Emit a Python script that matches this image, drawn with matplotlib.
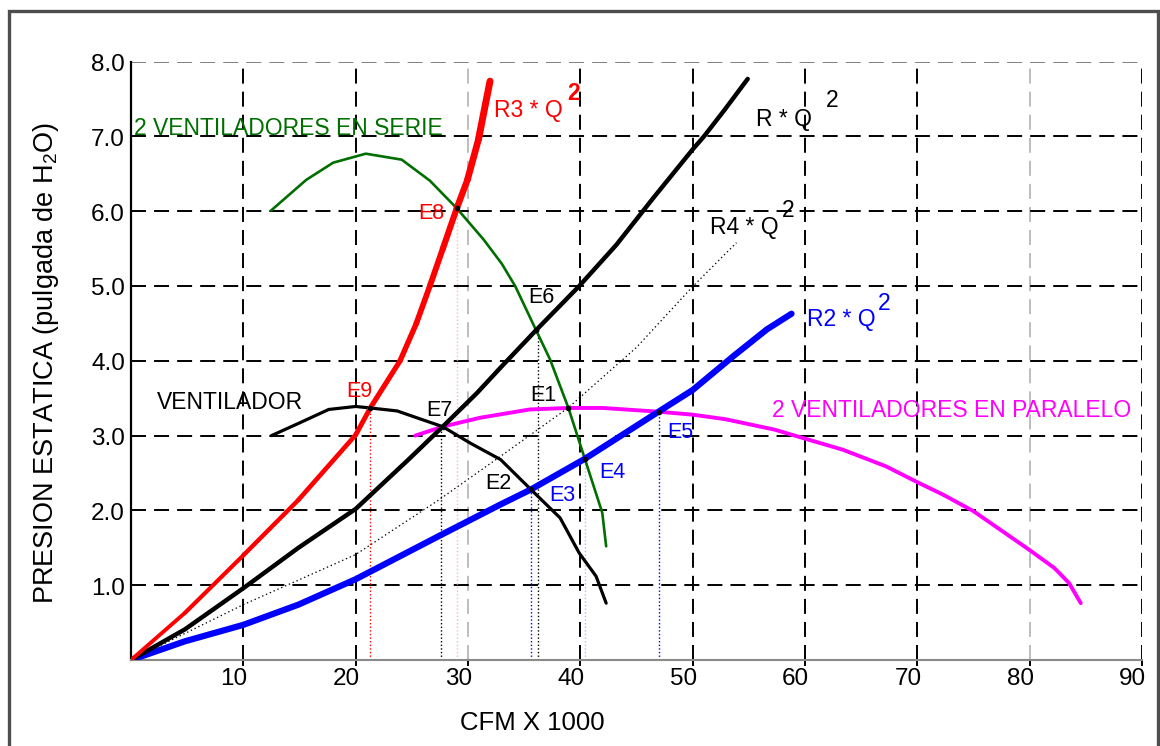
import matplotlib
matplotlib.use("Agg")
import numpy as np
import matplotlib.pyplot as plt
from matplotlib.patches import Rectangle
from matplotlib.collections import LineCollection
from matplotlib.transforms import ScaledTranslation

plt.rcParams['font.family'] = ['Liberation Sans', 'DejaVu Sans']
plt.rcParams['mathtext.default'] = 'regular'
plt.rcParams['lines.scale_dashes'] = False

# ---------------- data ----------------
# system curve R3*Q^2 (red)
r3_x = [0, 4.8, 10, 14.9, 20, 21.3, 23.95, 25.4, 26.6, 27.76, 29.0, 29.95, 30.93, 31.96]
r3_y = [0, 0.63, 1.40, 2.14, 3.01, 3.37, 4.0, 4.5, 5.0, 5.5, 6.04, 6.42, 6.96, 7.74]

# system curve R*Q^2 (black, thick)
r_x = [0, 4.8, 10, 14.9, 20, 24.7, 27.75, 30.8, 32.9, 36.06, 39.9, 43.2, 46.4, 49.96, 51.0, 52.86, 54.9]
r_y = [0, 0.41, 0.96, 1.50, 2.02, 2.68, 3.12, 3.57, 3.91, 4.41, 5.0, 5.55, 6.16, 6.82, 7.0, 7.36, 7.77]

# system curve R4*Q^2 (dotted)
r4_x = [0, 10, 20, 27.4, 32.86, 38.9, 45.0, 49.98, 53.9]
r4_y = [0, 0.74, 1.41, 2.14, 2.72, 3.37, 4.18, 4.99, 5.58]

# system curve R2*Q^2 (blue)
r2_x = [0, 4.8, 10, 14.9, 20, 27.7, 32.9, 35.6, 40.4, 46.96, 50.0, 53.6, 56.6, 58.8]
r2_y = [0, 0.25, 0.47, 0.74, 1.08, 1.68, 2.08, 2.28, 2.69, 3.32, 3.61, 4.06, 4.42, 4.63]

# single fan curve (VENTILADOR)
fan_x = [12.5, 15.0, 17.6, 20.0, 21.3, 23.7, 26.0, 27.75, 30.2, 32.9, 35.6, 38.2, 39.9, 41.4, 42.3]
fan_y = [3.0, 3.17, 3.35, 3.39, 3.37, 3.33, 3.21, 3.12, 2.90, 2.68, 2.28, 1.90, 1.43, 1.12, 0.76]

# 2 fans in series (green)
ser_x = [12.47, 15.6, 18.0, 20.9, 24.1, 26.6, 29.0, 31.4, 33.0, 34.2, 36.06, 37.3, 38.94, 40.4, 41.95, 42.3]
ser_y = [6.01, 6.42, 6.65, 6.77, 6.69, 6.41, 6.04, 5.62, 5.30, 5.0, 4.41, 4.02, 3.37, 2.69, 1.97, 1.52]

# 2 fans in parallel (magenta)
par_x = [25.3, 27.75, 31.1, 35.5, 38.9, 42.0, 46.96, 50.0, 52.9, 57.3, 60.0, 63.4, 67.2, 70.1, 72.3,
         75.0, 77.4, 79.9, 82.2, 83.5, 84.55]
par_y = [3.0, 3.12, 3.24, 3.35, 3.37, 3.37, 3.32, 3.28, 3.22, 3.08, 2.96, 2.81, 2.59, 2.37, 2.21,
         1.99, 1.74, 1.48, 1.23, 1.03, 0.76]

# operating points (intersections)
pt_x = [21.3, 27.75, 29.0, 36.06, 35.6, 38.9, 40.4, 46.96]
pt_y = [3.37, 3.12, 6.04, 4.41, 2.28, 3.37, 2.69, 3.32]

# vertical drop lines from operating points
drop_x = [21.3, 27.6, 29.05, 35.6, 36.2, 40.4, 46.96]
drop_top = [3.37, 3.12, 6.04, 2.28, 4.41, 2.69, 3.32]
drop_col = ['#ff0000', '#000000', '#ffb4b4', '#0000ff', '#000000', '#b4b4ff', '#0000ff']

# point labels
lab_text = ['E9', 'E7', 'E8', 'E6', 'E2', 'E3', 'E1', 'E4', 'E5']
lab_x = [19.2, 26.3, 25.6, 35.4, 31.5, 37.25, 35.5, 41.7, 47.7]
lab_y = [3.52, 3.26, 5.90, 4.77, 2.29, 2.12, 3.46, 2.43, 2.97]
lab_col = ['#ff0000', '#000000', '#ff0000', '#000000', '#000000', '#0000ff', '#000000', '#0000ff', '#0000ff']

x_ticks = [10, 20, 30, 40, 50, 60, 70, 80, 90]
y_ticks = [1, 2, 3, 4, 5, 6, 7, 8]
y_ticklabels = ['1.0', '2.0', '3.0', '4.0', '5.0', '6.0', '7.0', '8.0']

RED = '#ff0000'
BLUE = '#0000ff'
MAG = '#ff00ff'
GREEN = '#006e00'

# ---------------- figure ----------------
fig = plt.figure(figsize=(11.6, 7.46), dpi=100)
ax = fig.add_axes([131 / 1160, 1 - 660 / 746, (1142 - 131) / 1160, (660 - 61.7) / 746])
ax.set_xlim(0, 90)
ax.set_ylim(0, 8)

# grid
dash = (0, (10.8, 5.8))
ax.set_axisbelow(True)
ax.set_xticks(x_ticks)
ax.set_yticks(y_ticks)
ax.set_yticklabels(y_ticklabels)
ax.grid(True, color='black', lw=1.4, linestyle=dash)
for xv, gl, tk in zip(x_ticks, ax.xaxis.get_gridlines(), ax.xaxis.get_major_ticks()):
    if xv in (30, 80):
        gl.set_color('#bdbdbd')
        tk.tick1line.set_color('#bdbdbd')
for yv, gl in zip(y_ticks, ax.yaxis.get_gridlines()):
    if yv == 8:
        gl.set_color('#808080')

for s in ('top', 'right'):
    ax.spines[s].set_visible(False)
ax.spines['left'].set_color('black')
ax.spines['left'].set_linewidth(1.6)
ax.spines['bottom'].set_color('#8a8a8a')
ax.spines['bottom'].set_linewidth(1.5)

ax.tick_params(axis='x', direction='out', length=4.3, width=1.4, pad=1.5, labelsize=17.5, colors='black')
ax.tick_params(axis='y', length=0, pad=4.3, labelsize=17.5)
for lab in ax.get_xticklabels():
    lab.set_transform(lab.get_transform() + ScaledTranslation(-9.5 / 100, 0, fig.dpi_scale_trans))
for lab in ax.get_yticklabels():
    lab.set_verticalalignment('center')
    lab.set_transform(lab.get_transform() + ScaledTranslation(0, -3.3 / 100, fig.dpi_scale_trans))

# drop lines
ax.vlines(drop_x, 0, drop_top, colors=drop_col, linestyles=(0, (1.0, 1.6)), lw=1.0, zorder=2)

# curves
ax.plot(r4_x, r4_y, color='black', lw=0.9, linestyle=(0, (1.0, 2.0)), zorder=3)
ax.plot(par_x, par_y, color=MAG, lw=2.8, solid_capstyle='round', zorder=3)
ax.plot(fan_x, fan_y, color='black', lw=2.3, solid_capstyle='round', solid_joinstyle='round', zorder=3)
ax.plot(ser_x, ser_y, color=GREEN, lw=1.9, solid_capstyle='round', solid_joinstyle='round', zorder=3)
ax.plot(r2_x, r2_y, color=BLUE, lw=4.5, solid_capstyle='round', solid_joinstyle='round', zorder=4)
ax.plot(r_x, r_y, color='black', lw=3.2, solid_capstyle='round', solid_joinstyle='round', zorder=4)

# red curve gets thicker towards its upper end, as in the original drawing
r3_pts = np.column_stack([r3_x, r3_y])
r3_segs = np.stack([r3_pts[:-1], r3_pts[1:]], axis=1)
r3_lw = np.linspace(2.8, 5.0, len(r3_segs))
ax.add_collection(LineCollection(r3_segs, colors=RED, linewidths=r3_lw, capstyle='round',
                                 joinstyle='round', zorder=4))

ax.scatter(pt_x, pt_y, s=16, color='black', zorder=6, linewidths=0)

# curve labels
big = 16.5
ax.text(0.27, 7.02, '2 VENTILADORES EN SERIE', color=GREEN, fontsize=big, ha='left', va='baseline')
ax.text(57.05, 3.25, '2 VENTILADORES EN PARALELO', color=MAG, fontsize=big, ha='left', va='baseline')
ax.text(2.3, 3.36, 'VENTILADOR', color='black', fontsize=big, ha='left', va='baseline')

ax.text(32.3, 7.26, 'R3 * Q', color=RED, fontsize=big, ha='left', va='baseline')
ax.text(38.8, 7.49, '2', color=RED, fontsize=big, fontweight='bold', ha='left', va='baseline')
ax.text(55.65, 7.14, 'R * Q', color='black', fontsize=big, ha='left', va='baseline')
ax.text(61.9, 7.40, '2', color='black', fontsize=big, ha='left', va='baseline')
ax.text(51.56, 5.69, 'R4 * Q', color='black', fontsize=big, ha='left', va='baseline')
ax.text(57.9, 5.93, '2', color='black', fontsize=big, ha='left', va='baseline')
ax.text(60.18, 4.46, 'R2 * Q', color=BLUE, fontsize=big, ha='left', va='baseline')
ax.text(66.5, 4.68, '2', color=BLUE, fontsize=big, ha='left', va='baseline')

for t, x, y, c in zip(lab_text, lab_x, lab_y, lab_col):
    ax.text(x, y, t, color=c, fontsize=15.5, ha='left', va='baseline', zorder=7)

# axis labels
ax.set_xlabel('CFM X 1000', fontsize=18.5, va='center')
ax.xaxis.set_label_coords((532 - 131) / (1142 - 131), (660 - 723) / (660 - 61.7))
ax.set_ylabel('PRESION ESTATICA (pulgada de H$_2$O)', fontsize=19.5, va='center')
ax.yaxis.set_label_coords((46 - 131) / (1142 - 131), 0.497)

# figure frame
fig.patches.append(Rectangle((8.5 / 1160, -0.05), (1158 - 8.5) / 1160, 1.05 - 10.5 / 746,
                             transform=fig.transFigure, fill=False, edgecolor='#4d4d4d',
                             lw=2.4, zorder=10))

fig.savefig('out.png', dpi=100)
